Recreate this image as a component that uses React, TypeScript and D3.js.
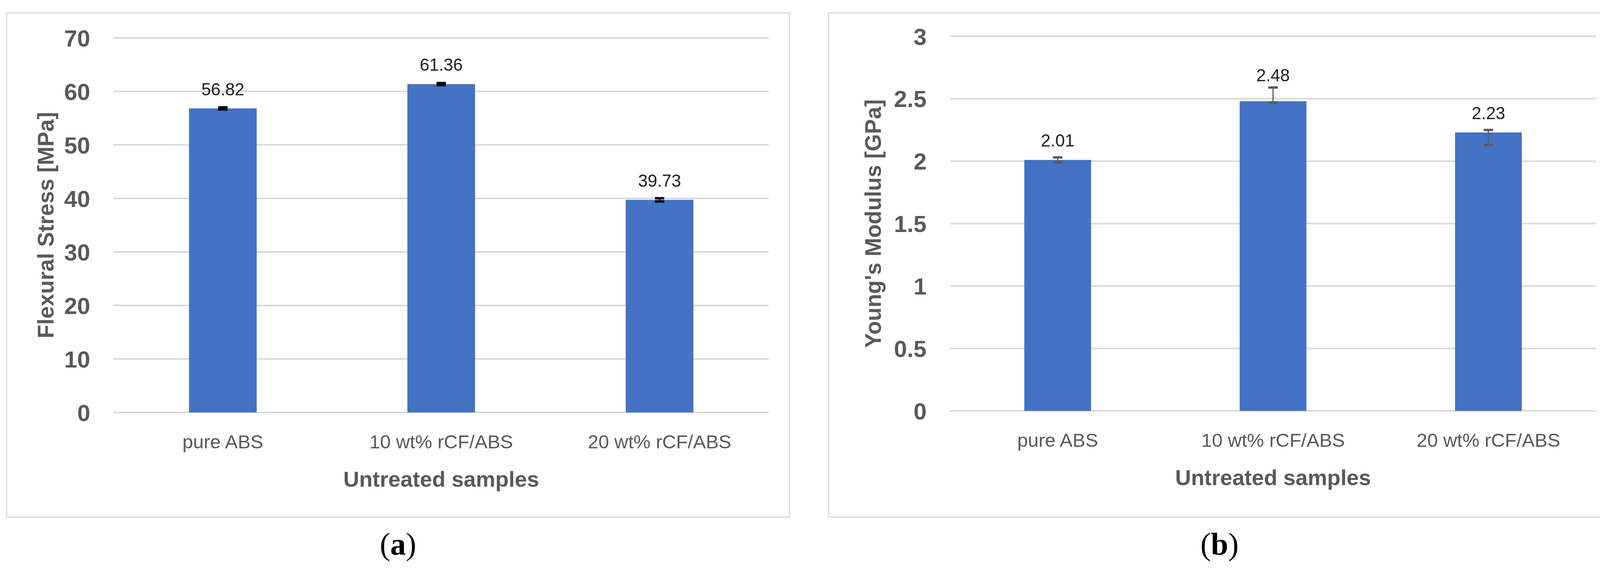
import { useEffect, useRef } from "react";
import * as d3 from "d3";

const categories = ["pure ABS", "10 wt% rCF/ABS", "20 wt% rCF/ABS"];

const stressValues = [56.82, 61.36, 39.73];
const stressErrPlus = [0.2, 0.2, 0.3];
const stressErrMinus = [0.2, 0.2, 0.3];
const stressTicks = [0, 10, 20, 30, 40, 50, 60, 70];

const modulusValues = [2.01, 2.48, 2.23];
const modulusErrPlus = [0.02, 0.11, 0.02];
const modulusErrMinus = [0.02, 0.01, 0.1];
const modulusTicks = [0, 0.5, 1, 1.5, 2, 2.5, 3];

const xTitle = "Untreated samples";

const SANS = "'Liberation Sans', Arial, sans-serif";
const SERIF = "'Liberation Serif', 'Times New Roman', serif";
const BAR = "#4472C4";
const GRID = "#d9d9d9";
const AXIS_TEXT = "#595959";

export default function App() {
  const ref = useRef<SVGSVGElement>(null);

  useEffect(() => {
    if (!ref.current) return;
    const svg = d3.select(ref.current);
    svg.selectAll("*").remove();

    const panels = [
      {
        box: [17, 33, 2021, 1324],
        plot: { left: 291, right: 1968, top: 97, bottom: 1056 },
        values: stressValues, errPlus: stressErrPlus, errMinus: stressErrMinus,
        ticks: stressTicks, yMax: 70,
        yTitle: "Flexural Stress [MPa]", yTitleX: 137,
        errColor: "#000000",
        caption: "a",
      },
      {
        box: [2121, 33, 4123, 1324],
        plot: { left: 2432, right: 4086, top: 93, bottom: 1052 },
        values: modulusValues, errPlus: modulusErrPlus, errMinus: modulusErrMinus,
        ticks: modulusTicks, yMax: 3,
        yTitle: "Young's Modulus [GPa]", yTitleX: 2255,
        errColor: "#595959",
        caption: "b",
      },
    ];

    panels.forEach((p) => {
      const g = svg.append("g");
      const [bx0, by0, bx1, by1] = p.box;

      // chart frame
      g.append("rect")
        .attr("x", bx0).attr("y", by0)
        .attr("width", bx1 - bx0).attr("height", by1 - by0)
        .attr("fill", "#fff")
        .attr("stroke", GRID)
        .attr("stroke-width", 3);

      const x = d3.scaleBand<string>()
        .domain(categories)
        .range([p.plot.left, p.plot.right])
        .paddingInner(0.69)
        .paddingOuter(0.345);

      const y = d3.scaleLinear()
        .domain([0, p.yMax])
        .range([p.plot.bottom, p.plot.top]);

      // gridlines
      g.selectAll("line.grid")
        .data(p.ticks)
        .enter()
        .append("line")
        .attr("x1", p.plot.left).attr("x2", p.plot.right)
        .attr("y1", (d) => y(d)).attr("y2", (d) => y(d))
        .attr("stroke", GRID)
        .attr("stroke-width", 4);

      // tick labels
      g.selectAll("text.tick")
        .data(p.ticks)
        .enter()
        .append("text")
        .attr("x", p.plot.left - 60)
        .attr("y", (d) => y(d))
        .attr("dy", "0.36em")
        .attr("text-anchor", "end")
        .attr("font-family", SANS)
        .attr("font-weight", "bold")
        .attr("font-size", 60)
        .attr("fill", AXIS_TEXT)
        .text((d) => String(d));

      // bars
      g.selectAll("rect.bar")
        .data(p.values)
        .enter()
        .append("rect")
        .attr("x", (_, i) => x(categories[i])!)
        .attr("y", (d) => y(d))
        .attr("width", x.bandwidth())
        .attr("height", (d) => y(0) - y(d))
        .attr("fill", BAR);

      // error bars
      const capW = 24;
      p.values.forEach((v, i) => {
        const cx = x(categories[i])! + x.bandwidth() / 2;
        const yTop = y(v + p.errPlus[i]);
        const yBot = y(v - p.errMinus[i]);
        g.append("line")
          .attr("x1", cx).attr("x2", cx)
          .attr("y1", yTop).attr("y2", yBot)
          .attr("stroke", p.errColor).attr("stroke-width", 3);
        [yTop, yBot].forEach((yy) => {
          g.append("line")
            .attr("x1", cx - capW / 2).attr("x2", cx + capW / 2)
            .attr("y1", yy).attr("y2", yy)
            .attr("stroke", p.errColor).attr("stroke-width", 6);
        });

        // value label, pushed up when the error bar is tall
        const labelY = Math.min(y(v) - 34, yTop - 16);
        g.append("text")
          .attr("x", cx)
          .attr("y", labelY)
          .attr("text-anchor", "middle")
          .attr("font-family", SANS)
          .attr("font-size", 44)
          .attr("fill", "#1f1f1f")
          .text(v.toFixed(2));
      });

      // category labels
      g.selectAll("text.cat")
        .data(categories)
        .enter()
        .append("text")
        .attr("x", (d) => x(d)! + x.bandwidth() / 2)
        .attr("y", y(0) + 92)
        .attr("text-anchor", "middle")
        .attr("font-family", SANS)
        .attr("font-size", 49)
        .attr("fill", AXIS_TEXT)
        .text((d) => d);

      // x axis title
      g.append("text")
        .attr("x", (p.plot.left + p.plot.right) / 2)
        .attr("y", y(0) + 190)
        .attr("text-anchor", "middle")
        .attr("font-family", SANS)
        .attr("font-weight", "bold")
        .attr("font-size", 56)
        .attr("fill", AXIS_TEXT)
        .text(xTitle);

      // y axis title
      const cy = (p.plot.top + p.plot.bottom) / 2;
      g.append("text")
        .attr("transform", `translate(${p.yTitleX},${cy}) rotate(-90)`)
        .attr("text-anchor", "middle")
        .attr("font-family", SANS)
        .attr("font-weight", "bold")
        .attr("font-size", 57)
        .attr("fill", AXIS_TEXT)
        .text(p.yTitle);

      // panel caption
      const cap = g.append("text")
        .attr("x", (bx0 + bx1) / 2)
        .attr("y", 1420)
        .attr("text-anchor", "middle")
        .attr("font-family", SERIF)
        .attr("font-size", 80)
        .attr("fill", "#000");
      cap.append("tspan").text("(");
      cap.append("tspan").attr("font-weight", "bold").text(p.caption);
      cap.append("tspan").text(")");
    });
  }, []);

  return (
    <svg
      ref={ref}
      width={4150}
      height={1462}
      style={{ position: "absolute", left: 0, top: 0, background: "#fff", display: "block" }}
    />
  );
}
